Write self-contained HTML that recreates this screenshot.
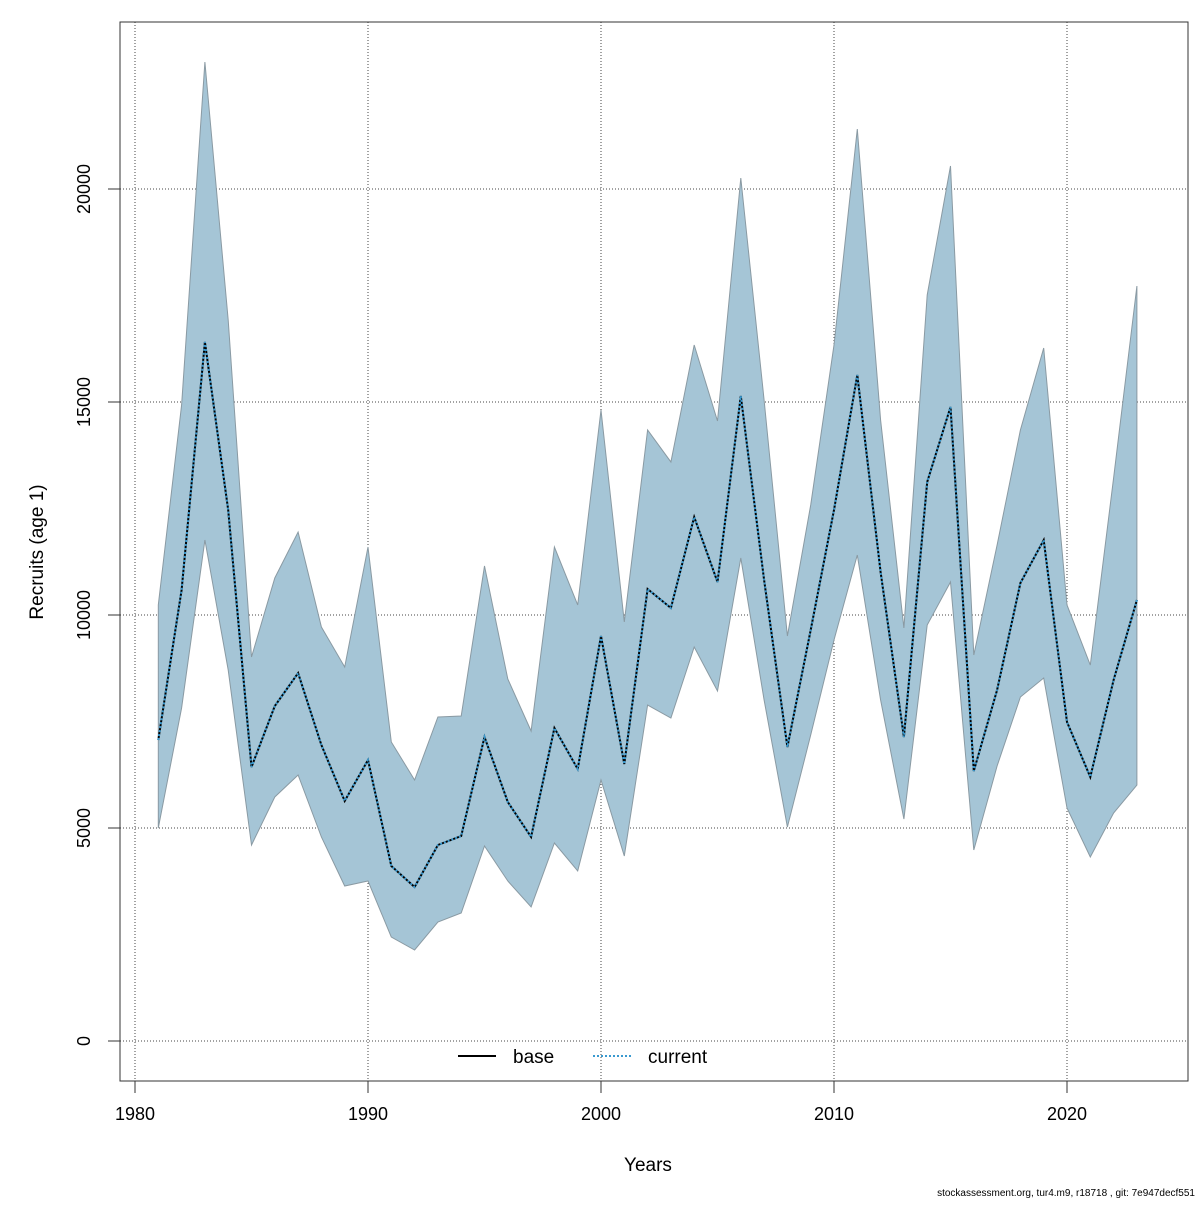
<!DOCTYPE html>
<html><head><meta charset="utf-8"><style>
body{margin:0;background:#fff}
text{font-family:"Liberation Sans",sans-serif}
</style></head><body>
<svg id="c" width="1200" height="1200" xmlns="http://www.w3.org/2000/svg"></svg>
<script>
const years=[];for(let y=1981;y<=2023;y++)years.push(y);
const estimate=[7066,10587,16408,12465,6432,7864,8638,6948,5634,6596,4108,3615,4601,4812,7136,5610,4789,7347,6385,9507,6502,10610,10164,12300,10775,15141,10822,6901,9648,12465,15634,11009,7136,13122,14883,6338,8239,10751,11760,7488,6197,8474,10352];
const lower=[5000,7817,11760,8709,4600,5728,6244,4789,3638,3756,2441,2136,2793,3005,4577,3756,3146,4648,3991,6127,4343,7887,7582,9249,8216,11338,8005,5023,7183,9413,11408,8005,5211,9765,10775,4484,6455,8075,8521,5469,4319,5352,6009];
const upper=[10235,14930,22981,16925,9014,10869,11948,9718,8779,11596,7019,6127,7606,7629,11150,8498,7277,11596,10235,14812,9836,14343,13592,16338,14554,20258,15047,9507,12582,16338,21408,14577,9695,17512,20540,9061,11643,14343,16268,10235,8826,13216,17723];
const xTicks=[1980,1990,2000,2010,2020];
const yTicks=[0,5000,10000,15000,20000];
const NS="http://www.w3.org/2000/svg";
const svg=document.getElementById('c');
const X=v=>135+(v-1980)*23.3;
const Y=v=>1041-v*0.0426;
function mk(t,a,p){const e=document.createElementNS(NS,t);for(const k in a)e.setAttribute(k,a[k]);(p||svg).appendChild(e);return e;}
// grid
xTicks.forEach(t=>{const g=mk('line',{x1:X(t),x2:X(t),y1:22,y2:1081,stroke:'#444','stroke-dasharray':'1,2','stroke-width':1});

});
yTicks.forEach(t=>{const g=mk('line',{x1:120,x2:1188,y1:Y(t),y2:Y(t),stroke:'#444','stroke-dasharray':'1,2','stroke-width':1});

});
// band
let pts=years.map((y,i)=>X(y)+','+Y(upper[i])).concat(years.slice().reverse().map((y,j)=>{const i=years.length-1-j;return X(y)+','+Y(lower[i]);}));
const band=mk('polygon',{points:pts.join(' '),fill:'#a5c5d6',stroke:'#8a9aa3','stroke-width':1});


const lp=years.map((y,i)=>X(y)+','+Y(estimate[i])).join(' ');
const base=mk('polyline',{points:lp,fill:'none',stroke:'#000','stroke-width':2});


const cur=mk('polyline',{points:lp,fill:'none',stroke:'#3a9ad0','stroke-width':2,'stroke-dasharray':'2,2'});


// box
const box=mk('rect',{x:120,y:22,width:1068,height:1059,fill:'none',stroke:'#333','stroke-width':1});


// ticks
xTicks.forEach(t=>{mk('line',{x1:X(t),x2:X(t),y1:1081,y2:1093,stroke:'#333'});
const l=mk('text',{x:X(t),y:1120,'text-anchor':'middle','font-size':18,fill:'#000'});l.textContent=t;

});
yTicks.forEach(t=>{mk('line',{x1:108,x2:120,y1:Y(t),y2:Y(t),stroke:'#333'});
const l=mk('text',{x:90,y:Y(t),'text-anchor':'middle','font-size':18,fill:'#000',transform:`rotate(-90 90 ${Y(t)})`});l.textContent=t;

});
</script>
<svg style="position:absolute;left:0;top:0" width="1200" height="1200" xmlns="http://www.w3.org/2000/svg">
<text x="648" y="1171" text-anchor="middle" font-size="19">Years</text>
<text x="43" y="552" text-anchor="middle" font-size="19" transform="rotate(-90 43 552)">Recruits (age 1)</text>
<g>
<line x1="458" x2="496" y1="1056" y2="1056" stroke="#000" stroke-width="2"/>
<text x="513" y="1063" font-size="19">base</text>
<line x1="593" x2="631" y1="1056" y2="1056" stroke="#3a9ad0" stroke-width="2" stroke-dasharray="2,2"/>
<text x="648" y="1063" font-size="19">current</text>
</g>
<text x="1195" y="1196" text-anchor="end" font-size="10">stockassessment.org, tur4.m9, r18718 , git: 7e947decf551</text>
</svg>
</body></html>
